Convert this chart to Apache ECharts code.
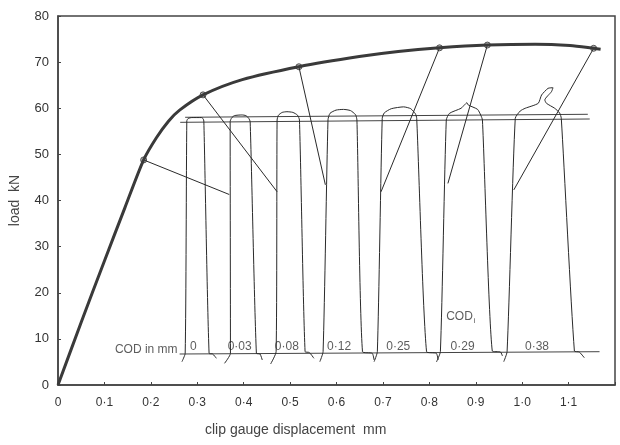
<!DOCTYPE html>
<html>
<head>
<meta charset="utf-8">
<script src="https://cdn.jsdelivr.net/npm/echarts@6/dist/echarts.min.js"></script>
<style>
html, body { margin: 0; padding: 0; background: #fff; }
#chart { width: 620px; height: 445px; }
</style>
</head>
<body>
<div id="chart"></div>
<script>
// load / clip gauge displacement record
const curveX = [0, 0.05, 0.1, 0.144, 0.1845, 0.212, 0.238, 0.262, 0.3125, 0.397, 0.519, 0.649, 0.733, 0.822, 0.925, 1.028, 1.103, 1.154, 1.169];
const curveY = [0, 13.6, 26.9, 38.4, 48.8, 53.6, 57.2, 59.6, 62.9, 66.2, 69.0, 71.2, 72.3, 73.1, 73.7, 73.9, 73.6, 73.0, 72.8];

// points where the COD traces were taken
const markX = [0.1845, 0.3125, 0.519, 0.822, 0.925, 1.154];
const markY = [48.8, 62.9, 69.0, 73.1, 73.7, 73.0];
const pointerEndX = [0.369, 0.472, 0.576, 0.696, 0.840, 0.982];
const pointerEndY = [41.3, 41.9, 43.4, 41.9, 43.7, 42.3];

// COD traces
const traceCod0 = [[0.267, 5.05], [0.274, 6.87], [0.2775, 57.24], [0.280, 57.75], [0.2881, 57.98], [0.3093, 57.98], [0.3125, 57.75], [0.3142, 57.24], [0.3255, 6.87], [0.3333, 6.72], [0.3412, 5.79]];
const traceCod003 = [[0.3588, 4.70], [0.3715, 6.87], [0.3709, 57.1], [0.3740, 57.9], [0.3800, 58.4], [0.3960, 58.55], [0.4049, 58.4], [0.4110, 57.8], [0.4140, 57.09], [0.4274, 6.87], [0.4352, 6.72], [0.4401, 5.42]];
const traceCod008 = [[0.458, 4.55], [0.4699, 7.22], [0.4720, 57.45], [0.4750, 58.5], [0.4830, 59.1], [0.4932, 59.25], [0.5060, 59.1], [0.5160, 58.5], [0.5202, 57.45], [0.5323, 7.22], [0.5414, 7.05], [0.5514, 5.79]];
const traceCod012 = [[0.5641, 5.05], [0.5711, 7.22], [0.5817, 57.5], [0.5860, 58.9], [0.5990, 59.6], [0.6150, 59.75], [0.6300, 59.5], [0.6410, 58.6], [0.6440, 57.45], [0.6560, 7.22], [0.6770, 6.87], [0.6810, 5.42]];
const traceCod025 = [[0.6810, 5.05], [0.6880, 7.22], [0.6985, 57.82], [0.7030, 59.0], [0.7180, 59.9], [0.7446, 60.3], [0.7600, 59.9], [0.7700, 58.8], [0.7728, 57.82], [0.7940, 7.22], [0.8150, 6.87], [0.8190, 5.42]];
const traceCod029 = [[0.8153, 4.99], [0.8238, 7.22], [0.8365, 57.45], [0.8435, 58.9], [0.8684, 59.99], [0.8754, 60.7], [0.8811, 61.2], [0.8839, 60.7], [0.9038, 59.77], [0.9108, 58.5], [0.9144, 57.45], [0.9356, 7.37], [0.9533, 7.15], [0.9575, 6.29]];
const traceCod038 = [[0.9603, 5.05], [0.9675, 7.22], [0.9851, 57.82], [0.9958, 59.4], [1.0064, 59.99], [1.0346, 61.07], [1.0418, 62.87], [1.0558, 64.32], [1.0665, 64.45], [1.0631, 63.59], [1.0488, 61.79], [1.0524, 61.07], [1.0701, 59.99], [1.0807, 58.97], [1.0843, 57.82], [1.1125, 7.37], [1.1231, 7.15], [1.1338, 5.92]];
const codTraces = [traceCod0, traceCod003, traceCod008, traceCod012, traceCod025, traceCod029, traceCod038];
const codLabels = ['0', '0·03', '0·08', '0·12', '0·25', '0·29', '0·38'];

// horizontal guide lines over the trace tops, and the trace baseline
const upperLine = [[0.2739, 58.04], [1.1414, 58.69]];
const lowerLine = [[0.2633, 56.95], [1.1456, 57.67]];
const baseLine = [[0.262, 6.72], [1.1667, 7.22]];

const ink = '#2a2a2a';
const font = 'Liberation Sans';

const chart = echarts.init(document.getElementById('chart'));

const traceSeries = codTraces.map(function (t) {
    return {
        type: 'line', data: t, symbol: 'none', smooth: 0.2, silent: true,
        lineStyle: { color: ink, width: 1 }
    };
});
const pointerSeries = markX.map(function (x, i) {
    return {
        type: 'line', data: [[x, markY[i]], [pointerEndX[i], pointerEndY[i]]],
        symbol: 'none', silent: true, lineStyle: { color: ink, width: 1 }
    };
});
const guideSeries = [upperLine, lowerLine, baseLine].map(function (l) {
    return {
        type: 'line', data: l, symbol: 'none', silent: true,
        lineStyle: { color: '#444', width: 1 }
    };
});

// value labels sit on the baseline under the middle of each trace
const labelPoints = codTraces.map(function (t, i) {
    const mid = (t[1][0] + t[t.length - 3][0]) / 2;
    return { value: [mid - 0.008, 7.0], label: { formatter: codLabels[i] } };
});

const option = {
    animation: false,
    backgroundColor: '#fff',
    grid: { left: 51, right: 5, top: 16, bottom: 60, show: true, borderColor: '#444', borderWidth: 1.5, backgroundColor: 'transparent' },
    xAxis: {
        type: 'value', min: 0, max: 1.2, interval: 0.1,
        axisLine: { lineStyle: { color: '#444', width: 1.5 } },
        axisTick: { inside: true, length: 3, lineStyle: { color: '#444' } },
        splitLine: { show: false },
        axisLabel: {
            margin: 12, color: '#333', fontSize: 12, fontFamily: font,
            formatter: function (v) {
                if (v > 1.15) return '';
                if (v === 0) return '0';
                return v.toFixed(1).replace('.', '·');
            }
        }
    },
    yAxis: {
        type: 'value', min: 0, max: 80, interval: 10,
        name: 'load  kN', nameLocation: 'middle', nameGap: 36,
        nameTextStyle: { color: '#444', fontSize: 14, fontFamily: font },
        axisLine: { lineStyle: { color: '#444', width: 1.5 } },
        axisTick: { inside: true, length: 3, lineStyle: { color: '#444' } },
        splitLine: { show: false },
        axisLabel: { margin: 9, color: '#333', fontSize: 13, fontFamily: font }
    },
    graphic: [{
        type: 'text', left: 205, top: 423,
        style: { text: 'clip gauge displacement  mm', fill: '#444', fontSize: 14, fontFamily: font }
    }],
    series: [
        ...guideSeries,
        ...traceSeries,
        ...pointerSeries,
        {
            type: 'line', data: curveX.map(function (x, i) { return [x, curveY[i]]; }),
            symbol: 'none', smooth: 0.25, silent: true,
            lineStyle: { color: '#3a3a3a', width: 3 }
        },
        {
            type: 'scatter', data: markX.map(function (x, i) { return [x, markY[i]]; }),
            symbol: 'circle', symbolSize: 6, silent: true,
            itemStyle: { color: '#aaa', borderColor: '#333', borderWidth: 1 }
        },
        {
            type: 'scatter', data: labelPoints, symbolSize: 0, silent: true,
            label: { show: true, position: 'top', distance: 0, color: '#333', fontSize: 12, fontFamily: font }
        },
        {
            type: 'scatter', symbolSize: 0, silent: true,
            data: [{ value: [0.262, 6.9], label: { formatter: 'COD in mm', position: 'left', distance: 2, offset: [0, -3] } }],
            label: { show: true, color: '#333', fontSize: 12, fontFamily: font }
        },
        {
            type: 'scatter', symbolSize: 0, silent: true,
            data: [[0.868, 14.8]],
            label: {
                show: true, position: 'inside', formatter: '{a|COD}{b|i}',
                rich: {
                    a: { color: '#333', fontSize: 12, fontFamily: font },
                    b: { color: '#333', fontSize: 8, fontFamily: font, padding: [8, 0, 0, 1] }
                }
            }
        }
    ]
};

chart.setOption(option);
</script>
</body>
</html>
